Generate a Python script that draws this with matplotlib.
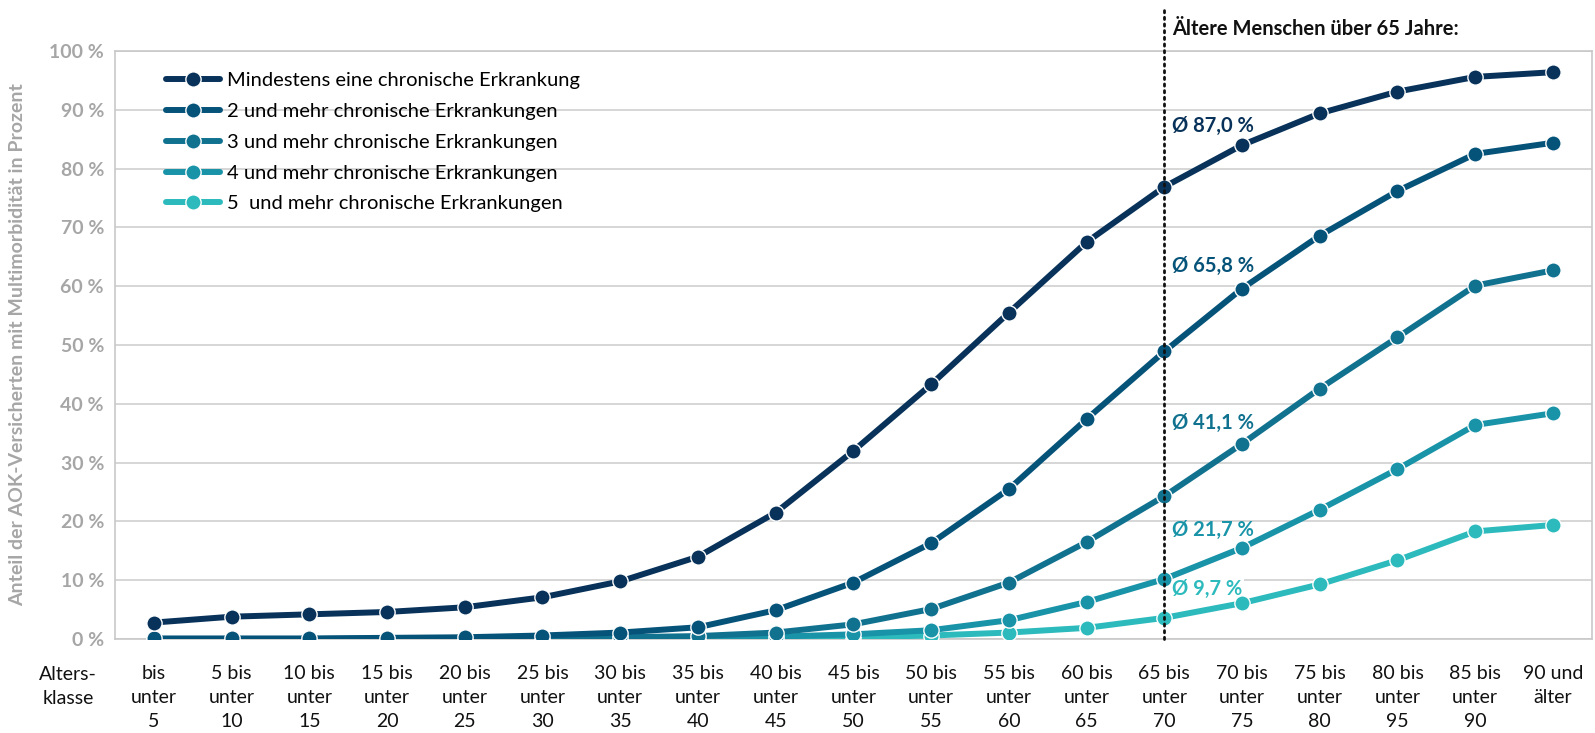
import matplotlib
matplotlib.use("Agg")
import matplotlib.pyplot as plt
from matplotlib import transforms

plt.rcParams['font.family'] = ['Lato', 'DejaVu Sans']

# Altersklassen (x-Achse)
age_groups = ['bis\nunter\n5', '5 bis\nunter\n10', '10 bis\nunter\n15', '15 bis\nunter\n20',
              '20 bis\nunter\n25', '25 bis\nunter\n30', '30 bis\nunter\n35', '35 bis\nunter\n40',
              '40 bis\nunter\n45', '45 bis\nunter\n50', '50 bis\nunter\n55', '55 bis\nunter\n60',
              '60 bis\nunter\n65', '65 bis\nunter\n70', '70 bis\nunter\n75', '75 bis\nunter\n80',
              '80 bis\nunter\n95', '85 bis\nunter\n90', '90 und\nälter']

labels = ['Mindestens eine chronische Erkrankung',
          '2 und mehr chronische Erkrankungen',
          '3 und mehr chronische Erkrankungen',
          '4 und mehr chronische Erkrankungen',
          '5  und mehr chronische Erkrankungen']

mind_1 = [2.8, 3.8, 4.2, 4.6, 5.4, 7.1, 9.8, 14.0, 21.5, 32.0, 43.3, 55.5, 67.5, 76.9, 84.0, 89.4, 93.1, 95.6, 96.4]
mind_2 = [0.1, 0.1, 0.1, 0.2, 0.3, 0.6, 1.1, 2.0, 4.9, 9.6, 16.3, 25.5, 37.4, 48.9, 59.6, 68.6, 76.2, 82.5, 84.4]
mind_3 = [0.0, 0.0, 0.0, 0.1, 0.1, 0.2, 0.3, 0.5, 1.1, 2.5, 5.1, 9.6, 16.5, 24.3, 33.2, 42.6, 51.3, 60.1, 62.7]
mind_4 = [0.0, 0.0, 0.0, 0.0, 0.0, 0.1, 0.1, 0.2, 0.4, 0.8, 1.5, 3.2, 6.3, 10.2, 15.5, 22.0, 28.9, 36.4, 38.4]
mind_5 = [0.0, 0.0, 0.0, 0.0, 0.0, 0.0, 0.0, 0.1, 0.1, 0.3, 0.6, 1.1, 1.9, 3.6, 6.1, 9.3, 13.4, 18.3, 19.4]

# Durchschnitt ab 65 Jahre
avg_65 = [87.0, 65.8, 41.1, 21.7, 9.7]
avg_text_y = [87.2, 63.4, 36.7, 18.5, 8.5]

colors = ['#08325a', '#06537a', '#117290', '#1993a8', '#2cbabd']

series = [mind_1, mind_2, mind_3, mind_4, mind_5]
x = list(range(len(age_groups)))
split_idx = 13

fig = plt.figure(figsize=(15.95, 7.33), dpi=100)
ax = fig.add_axes([0.0721, 0.1282, 0.9259, 0.8022])

for i in range(len(series)):
    ax.plot(x, series[i], color=colors[i], lw=4.3, marker='o', markersize=11,
            markeredgecolor='white', markeredgewidth=1.0, label=labels[i],
            zorder=10 - i, solid_capstyle='round')

ax.set_xlim(-0.5, len(age_groups) - 0.5)
ax.set_ylim(0, 100)
ax.set_yticks(range(0, 101, 10))
ax.set_yticklabels(['%d %%' % v for v in range(0, 101, 10)],
                   color='#a6a6a6', fontweight='bold', fontsize=14)
ax.set_xticks(x)
ax.set_xticklabels(age_groups, fontsize=14, linespacing=1.5, color='#111111')
ax.tick_params(axis='both', length=0)
ax.tick_params(axis='x', pad=19)
ax.tick_params(axis='y', pad=8)
ax.grid(axis='y', color='#d0d0d0', lw=1.2)
ax.set_axisbelow(True)
for sp in ax.spines.values():
    sp.set_color('#c8c8c8')
    sp.set_linewidth(1.2)

ax.set_ylabel('Anteil der AOK-Versicherten mit Multimorbidität in Prozent',
              color='#a6a6a6', fontweight='bold', fontsize=14)
ax.yaxis.set_label_coords(-0.060, 0.5)

# Beschriftung links der Tick-Labels
trans = transforms.blended_transform_factory(ax.transData, ax.transAxes)
ax.text(-1.1, -0.046, 'Alters-\nklasse', transform=trans, ha='center', va='top',
        fontsize=14, linespacing=1.5, color='#111111', clip_on=False)

# Trennlinie ab 65 Jahre
ax.plot([split_idx, split_idx], [0, 107], color='#111111', lw=2.0, ls=(0, (0.8, 1.6)),
        dash_capstyle='round', clip_on=False, zorder=12)
ax.text(split_idx + 0.1, 1.038, 'Ältere Menschen über 65 Jahre:', transform=trans,
        fontsize=14.5, fontweight='bold', color='#111111', va='center', ha='left')

for i in range(len(avg_65)):
    bb = None
    if i == 4:
        bb = dict(facecolor='white', edgecolor='none', pad=1.5)
    ax.text(split_idx + 0.1, avg_text_y[i], 'Ø ' + ('%.1f' % avg_65[i]).replace('.', ',') + ' %',
            color=colors[i], fontsize=14.5, fontweight='bold', va='center', ha='left',
            bbox=bb, zorder=5)

leg = ax.legend(loc='upper left', bbox_to_anchor=(0.022, 0.995), frameon=False,
                fontsize=14.5, handlelength=2.7, handletextpad=0.35, labelspacing=0.68)

fig.savefig('out.png', dpi=100)
